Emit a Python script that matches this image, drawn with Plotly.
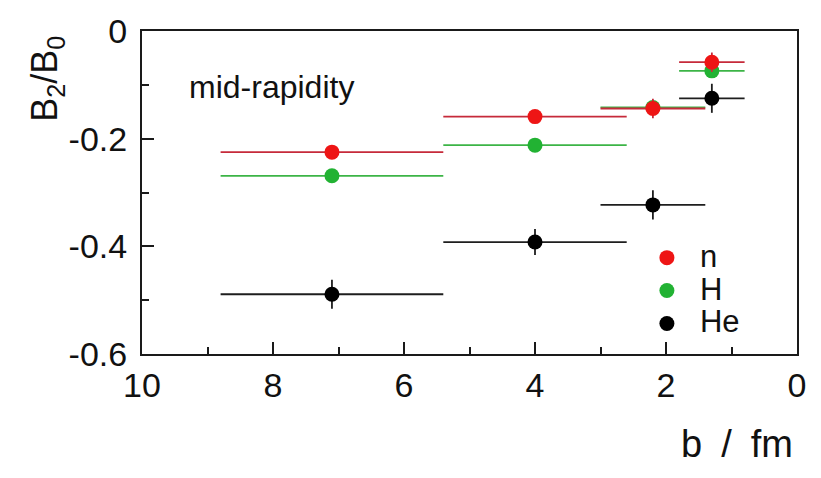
import plotly.graph_objects as go

# impact-parameter bins (fm): centre and half width
b_center = [7.1, 4.0, 2.2, 1.3]
b_half = [1.7, 1.4, 0.8, 0.5]

# B2/B0 at mid-rapidity and vertical uncertainties
ratio_n = [-0.225, -0.159, -0.144, -0.058]
err_n = [0.010, 0.010, 0.018, 0.018]
ratio_H = [-0.269, -0.212, -0.142, -0.074]
err_H = [0.010, 0.010, 0.012, 0.012]
ratio_He = [-0.489, -0.392, -0.323, -0.125]
err_He = [0.027, 0.024, 0.027, 0.027]

x_tickvals = [10, 8, 6, 4, 2, 0]
x_ticktext = ["10", "8", "6", "4", "2", "0"]
y_tickvals = [0, -0.2, -0.4, -0.6]
y_ticktext = ["0", "-0.2", "-0.4", "-0.6"]

FONT = "Liberation Sans"
AX = "#1a1a1a"

series = [
    ("He", ratio_He, err_He, "#000000", "#1e1e1e"),
    ("H", ratio_H, err_H, "#22b233", "#3cb446"),
    ("n", ratio_n, err_n, "#ee1515", "#c62a3a"),
]

fig = go.Figure()
for name, vals, errs, mcol, lcol in series:
    fig.add_trace(go.Scatter(
        x=b_center, y=vals, mode="markers",
        # legend rows are packed tighter than the label size would give
        name=f"<span style='font-size:31px'>{name}</span>",
        marker=dict(size=15, color=mcol, line=dict(width=0)),
        error_x=dict(type="data", array=b_half, symmetric=True,
                     color=lcol, thickness=1.8, width=0),
        error_y=dict(type="data", array=errs, symmetric=True,
                     color=lcol, thickness=1.8, width=0),
    ))

axis_common = dict(
    showline=True, linecolor=AX, linewidth=2, mirror=True,
    ticks="inside", ticklen=12, tickwidth=2, tickcolor=AX,
    showgrid=False, zeroline=False,
    tickfont=dict(family=FONT, size=34, color="#111"),
)

fig.update_xaxes(range=[10, 0], tickvals=x_tickvals, ticktext=x_ticktext,
                 minor=dict(ticks="inside", ticklen=7, tickwidth=2,
                            tickcolor=AX, dtick=1, tick0=0),
                 ticklabelstandoff=0, **axis_common)
fig.update_yaxes(range=[-0.6, 0], tickvals=y_tickvals, ticktext=y_ticktext,
                 minor=dict(ticks="inside", ticklen=7, tickwidth=2,
                            tickcolor=AX, dtick=0.1, tick0=0),
                 ticklabelstandoff=6, **axis_common)

fig.update_layout(
    width=821, height=478,
    margin=dict(l=142, r=24, t=20, b=124),
    paper_bgcolor="white", plot_bgcolor="white",
    font=dict(family=FONT, color="#111"),
    showlegend=True,
    legend=dict(traceorder="reversed", x=0.751, y=0.196,
                xanchor="left", yanchor="middle", itemwidth=56,
                bgcolor="rgba(0,0,0,0)", borderwidth=0,
                font=dict(family=FONT, size=23, color="#111")),
    annotations=[
        dict(text="mid-rapidity", x=0.068, y=0.828, xref="paper", yref="paper",
             xanchor="left", yanchor="middle", showarrow=False,
             font=dict(family=FONT, size=32, color="#111")),
        dict(text="B<sub>2</sub>/B<sub>0</sub>", x=-0.145, y=0.852,
             xref="paper", yref="paper", textangle=-90,
             xanchor="center", yanchor="middle", showarrow=False,
             font=dict(family=FONT, size=36, color="#111")),
        dict(text="b\u2002/\u2002fm", x=0.997, y=-0.278,
             xref="paper", yref="paper", xanchor="right", yanchor="middle",
             showarrow=False, font=dict(family=FONT, size=38, color="#111")),
    ],
)

fig.write_html("out.html")
